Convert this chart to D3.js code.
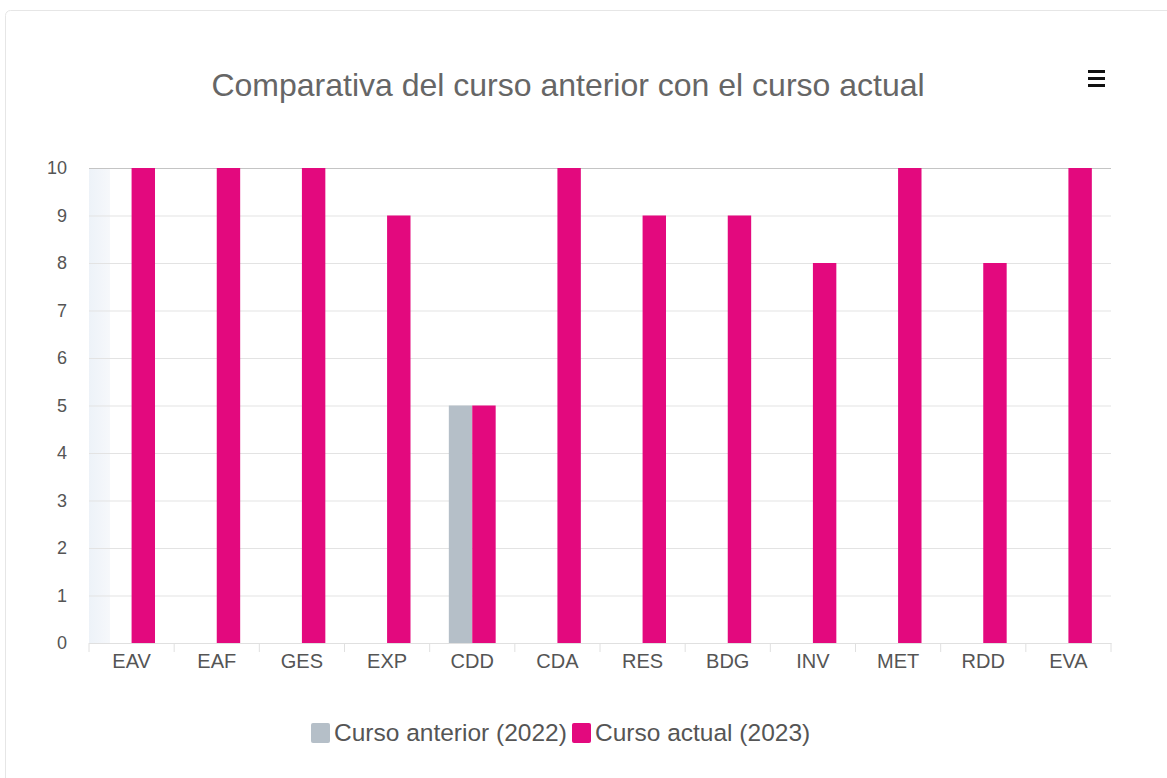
<!DOCTYPE html>
<html><head><meta charset="utf-8">
<script src="https://cdn.jsdelivr.net/npm/d3@7/dist/d3.min.js"></script>
<style>
html,body{margin:0;padding:0;background:#fff;}
svg{display:block;font-family:"Liberation Sans",Arial,sans-serif;}
</style></head>
<body>
<svg id="chart" width="1167" height="778"></svg>
<script>
const categories = ["EAV","EAF","GES","EXP","CDD","CDA","RES","BDG","INV","MET","RDD","EVA"];
const seriesNames = ["Curso anterior (2022)","Curso actual (2023)"];
const anterior = [0,0,0,0,5,0,0,0,0,0,0,0];
const actual = [10,10,10,9,5,10,9,9,8,10,8,10];
const yTicks = [0,1,2,3,4,5,6,7,8,9,10];
const title = "Comparativa del curso anterior con el curso actual";
const colors = ["#b5bfc8","#e3097e"];

const svg = d3.select("#chart");
const M = {left:89, right:1111, top:168, bottom:643};

// card
svg.append("rect").attr("x",5.5).attr("y",10.5).attr("width",1200).attr("height",800)
  .attr("rx",5).attr("fill","#fff").attr("stroke","#e6e6e6");

// title
svg.append("text").attr("x",568).attr("y",96).attr("text-anchor","middle")
  .attr("font-size",32).attr("fill","#666").text(title);

// hamburger
[0,1,2].forEach(i=>{
  svg.append("rect").attr("x",1088).attr("y",70+i*7).attr("width",17).attr("height",3).attr("fill","#111");
});

const x0 = d3.scaleBand().domain(categories).range([M.left,M.right]).padding(0);
const groupW = x0.bandwidth()*0.55;
const x1 = d3.scaleBand().domain(seriesNames).range([0,groupW]).padding(0);
const y = d3.scaleLinear().domain([0,10]).range([M.bottom,M.top]);

// faint crosshair shading at left
const defs = svg.append("defs");
const lg = defs.append("linearGradient").attr("id","xh").attr("x1",0).attr("x2",1);
lg.append("stop").attr("offset",0).attr("stop-color","#edf2f8");
lg.append("stop").attr("offset",1).attr("stop-color","#f6f8fb");
svg.append("rect").attr("x",M.left).attr("y",M.top).attr("width",21).attr("height",M.bottom-M.top).attr("fill","url(#xh)");

// gridlines
const yAxis = d3.axisLeft(y).tickValues(yTicks).tickSize(-(M.right-M.left)).tickPadding(22).tickFormat(d3.format("d"));
const gy = svg.append("g").attr("transform",`translate(${M.left},0)`).call(yAxis);
gy.select(".domain").remove();
gy.selectAll(".tick line").attr("stroke",d=>d===10?"#c4c4c4":"#e3e3e3");
gy.selectAll(".tick text").attr("font-size",18).attr("fill","#555").attr("font-family","Liberation Sans, Arial, sans-serif");

// bars
const bars = svg.append("g");
categories.forEach((c,i)=>{
  const vals = [anterior[i], actual[i]];
  const gx = x0(c) + (x0.bandwidth()-groupW)/2;
  vals.forEach((v,j)=>{
    if(v<=0) return;
    bars.append("rect").attr("x",gx + x1(seriesNames[j])).attr("y",y(v))
      .attr("width",x1.bandwidth()).attr("height",y(0)-y(v)).attr("fill",colors[j]);
  });
});

// x axis
const xAxis = d3.axisBottom(x0).tickSize(0).tickPadding(11);
const gx = svg.append("g").attr("transform",`translate(0,${M.bottom})`).call(xAxis);
gx.select(".domain").attr("stroke","#e0e0e0");
gx.selectAll(".tick text").attr("font-size",20).attr("fill","#555").attr("font-family","Liberation Sans, Arial, sans-serif");
// ticks at boundaries
const bounds = categories.map(c=>x0(c)).concat([M.right]);
svg.append("g").selectAll("line").data(bounds).join("line")
  .attr("x1",d=>d).attr("x2",d=>d).attr("y1",M.bottom).attr("y2",M.bottom+9)
  .attr("stroke","#e0e0e0");

// legend
const legend = svg.append("g");
const items = [{x:311,tx:334},{x:572,tx:595}];
seriesNames.forEach((n,j)=>{
  legend.append("rect").attr("x",items[j].x).attr("y",723).attr("width",19).attr("height",20).attr("rx",2).attr("fill",colors[j]);
  legend.append("text").attr("x",items[j].tx).attr("y",741).attr("font-size",24.5).attr("fill","#555").text(n);
});
</script>
</body></html>
